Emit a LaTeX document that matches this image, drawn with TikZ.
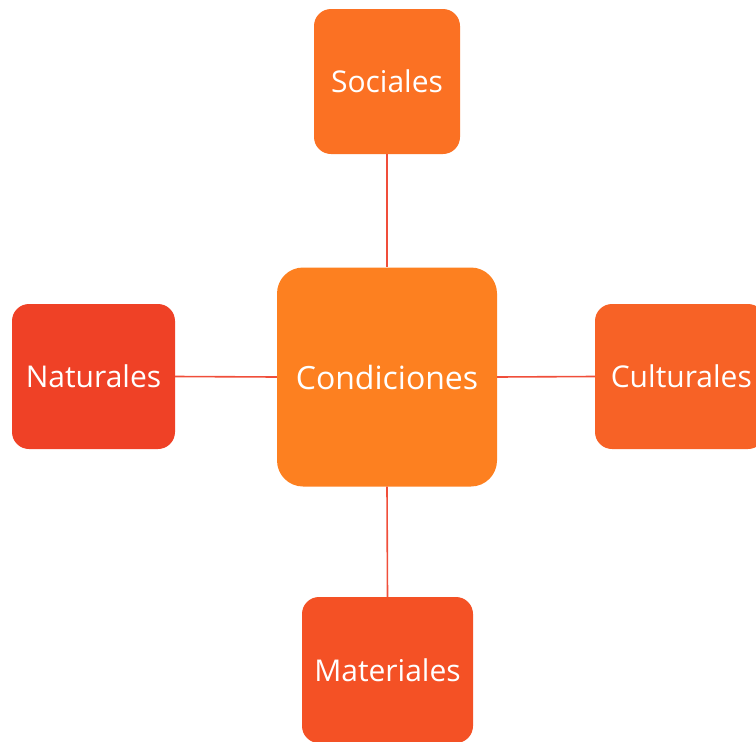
\documentclass[tikz,border=0pt]{standalone}
\usepackage{fontspec}
\setmainfont{Open Sans}
\definecolor{cnat}{HTML}{EF4126}
\definecolor{cmat}{HTML}{F45125}
\definecolor{ccul}{HTML}{F76226}
\definecolor{csoc}{HTML}{FB7123}
\definecolor{ccon}{HTML}{FD8020}
\definecolor{cline}{HTML}{F04E3A}
\begin{document}
\begin{tikzpicture}[x=1pt,y=-1pt,
  box/.style={rectangle, rounded corners=17pt, text=white, inner sep=0pt, font=\fontsize{30}{32}\selectfont},
  link/.style={draw=cline, line width=1.6pt}]
\useasboundingbox (0,0) rectangle (756,742);
\begin{scope}
\clip (0,0) rectangle (756,742);
\node[box, fill=ccon, minimum width=220pt, minimum height=219pt, rounded corners=26pt, font=\fontsize{32}{34}\selectfont] (con) at (387,377) {Condiciones};
\node[box, fill=csoc, minimum width=146pt, minimum height=145pt] (soc) at (387,81.5) {Sociales};
\node[box, fill=cnat, minimum width=163pt, minimum height=145pt] (nat) at (93.5,376.5) {Naturales};
\node[box, fill=ccul, minimum width=170pt, minimum height=145pt] (cul) at (680,376.5) {};
\node[text=white, font=\fontsize{30}{32}\selectfont, anchor=east, inner sep=0pt] (cultxt) at (752,376.5) {Culturales};
\node[box, fill=cmat, minimum width=171pt, minimum height=146pt] (mat) at (387.5,670) {Materiales};
\end{scope}
\draw[link] (soc.south) -- (con.north);
\draw[link] (nat.east) -- (con.west);
\draw[link] (con.east) -- (cul.west);
\draw[link] (con.south) -- (mat.north);
\end{tikzpicture}
\end{document}
